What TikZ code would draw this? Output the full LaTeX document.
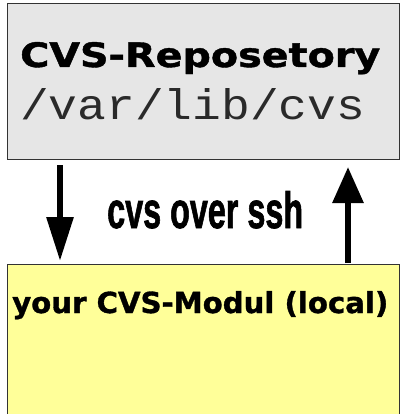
\documentclass[tikz,border=0pt]{standalone}
\usepackage{fontspec}
\usepackage{graphicx}
\usetikzlibrary{arrows.meta}
\setmainfont{DejaVu Sans}
\newfontfamily\heavyfnt[FakeBold=1.2]{DejaVu Sans Bold}
\newfontfamily\monofnt{Liberation Mono}
\newfontfamily\narrowfnt[FakeBold=1.6]{Liberation Sans Bold}
\definecolor{repogray}{HTML}{E6E6E6}
\definecolor{localyellow}{HTML}{FFFF99}
\definecolor{edgedark}{HTML}{333333}
\definecolor{pathgray}{HTML}{2A2A2A}
\begin{document}
\begin{tikzpicture}[x=1pt,y=-1pt,
  boxstyle/.style={draw=edgedark,line width=1.2pt},
  bigarrow/.style={line width=6pt,-{Triangle[width=26pt,length=44pt]}},
  txt/.style={inner sep=0pt,anchor=base west}]
\useasboundingbox (0,0) rectangle (401,414);
\path[boxstyle,fill=repogray] (7.5,3.5) rectangle (399.5,159.5);
\path[boxstyle,fill=localyellow] (7.5,264.5) rectangle (399.5,420);
\node[txt] (title) at (20,67) {\resizebox{360pt}{25pt}{\heavyfnt CVS-Reposetory}};
\node[txt,text=pathgray] (path) at (20,120) {\resizebox{345pt}{31pt}{\monofnt /var/lib/cvs}};
\node[txt] (mid) at (107,228) {\resizebox{196pt}{37pt}{\narrowfnt cvs over ssh}};
\node[txt] (local) at (12,313) {\resizebox{376pt}{22pt}{\heavyfnt your CVS-Modul (local)}};
\coordinate (dtop) at (60,165);
\coordinate (dbot) at (60,261);
\coordinate (ubot) at (348,263);
\coordinate (utop) at (348,167);
\draw[bigarrow] (dtop) -- (dbot);
\draw[bigarrow,-{Triangle[width=30pt,length=36pt]}] (ubot) -- (utop);
\end{tikzpicture}
\end{document}
